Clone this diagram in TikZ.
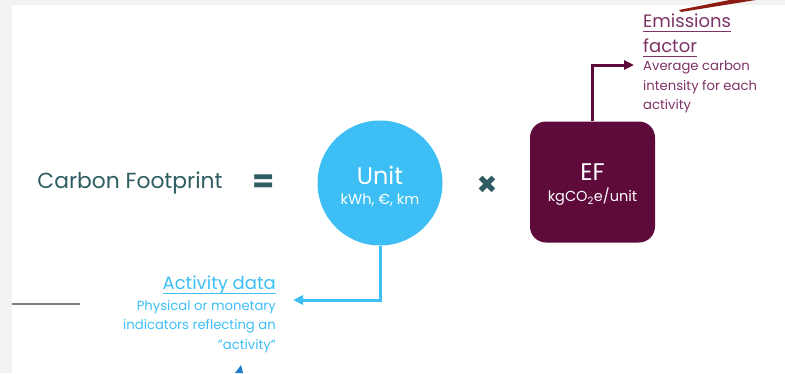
\documentclass[tikz,border=0pt]{standalone}
\usepackage{fontspec}
\setmainfont{Poppins}
\newfontfamily\symfont{DejaVu Sans}
\usetikzlibrary{arrows.meta}

\definecolor{pagegrey}{HTML}{F2F2F2}
\definecolor{teal}{HTML}{2F5E62}
\definecolor{unitblue}{HTML}{3DBFF5}
\definecolor{efmaroon}{HTML}{5E0A3A}
\definecolor{eftext}{HTML}{7E3366}
\definecolor{rustred}{HTML}{8E1B12}
\definecolor{markblue}{HTML}{1E7FD0}

% underlined heading word, rule set a little below the baseline
\newcommand\headline[1]{\setbox0=\hbox{#1}\leavevmode\rlap{\rule[-3.5pt]{\wd0}{0.9pt}}\box0}

\tikzset{
  flowline/.style={line width=3pt, -{Triangle[length=10pt,width=9pt]}},
  heading/.style={inner sep=0pt, font=\fontsize{18}{25}\selectfont},
  caption/.style={inner sep=0pt, font=\fontsize{13.2}{19.5}\selectfont},
  bigword/.style={inner sep=0pt, text=white, font=\fontsize{24}{26}\selectfont},
  smallword/.style={inner sep=0pt, text=white, font=\fontsize{14.5}{16}\selectfont},
}

\begin{document}
\begin{tikzpicture}[x=1pt, y=-1pt]
  \useasboundingbox (0,0) rectangle (785,373);
  \clip (0,0) rectangle (785,373);

  % page backdrop
  \fill[pagegrey] (0,0) rectangle (785,373);
  \fill[white] (12,5) rectangle (785,373);

  % equation
  \node[text=teal, inner sep=0pt, font=\fontsize{21.8}{24}\selectfont] (cf) at (130,183) {Carbon Footprint};
  \node[text=teal, inner sep=0pt, font=\fontsize{32}{32}\bfseries] (eq) at (264,184) {=};
  \node[circle, fill=unitblue, minimum size=125pt, inner sep=0pt] (unit) at (380,183) {};
  \node[bigword] (unitname) at (380,175) {Unit};
  \node[smallword] (unitlist) at (380,200) {kWh, €, km};
  \node[text=teal, inner sep=0pt, font=\symfont\fontsize{25}{25}\selectfont] (times) at (487,185) {✖};
  \node[rectangle, rounded corners=16pt, fill=efmaroon, minimum width=125pt, minimum height=121pt, inner sep=0pt] (ef) at (592.5,182) {};
  \node[bigword] (efname) at (592.5,172) {EF};
  \node[smallword] (efunit) at (592.5,197) {kgCO\textsubscript{2}e/unit};

  % emissions factor callout
  \coordinate (eftip) at (634,65);
  \draw[flowline, efmaroon] (ef.north) |- (eftip);
  \node[heading, text=eftext, anchor=north west, align=left] (efhead) at (643,14)
    {\headline{Emissions}\\\headline{factor}};
  \node[caption, text=eftext, anchor=north west, align=left] (efbody) at (643,61)
    {Average carbon\\intensity for each\\activity};

  % activity data callout
  \coordinate (adtip) at (293,300);
  \draw[flowline, unitblue] (unit.south) |- (adtip);
  \node[heading, text=unitblue, anchor=north east, align=right] (adhead) at (276,276)
    {\headline{Activity data}};
  \node[caption, text=unitblue, anchor=north east, align=right] (adbody) at (276,300)
    {Physical or monetary\\indicators reflecting an\\"activity"};

  % partial elements at the edges
  \draw[gray, line width=1.5pt] (12,304) -- (80,304);
  \fill[rustred] (679,10) -- (760,-6) -- (762,-1) -- (681,12) -- cycle;
  \fill[markblue] (235,373) -- (241,365) -- (243,373) -- cycle;
\end{tikzpicture}
\end{document}
